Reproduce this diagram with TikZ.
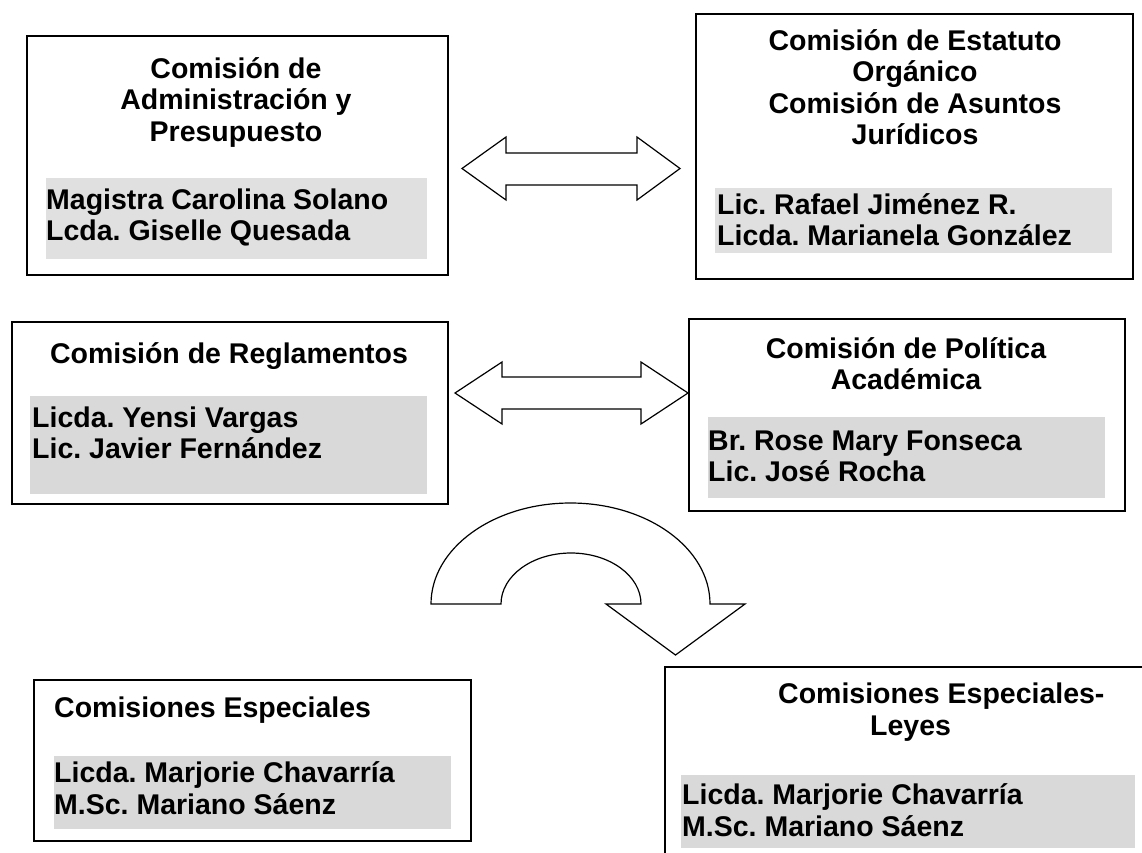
\documentclass[tikz,border=0pt]{standalone}
\usepackage{fontspec}
\setmainfont{Liberation Sans}
\definecolor{graybg}{HTML}{D9D9D9}
\definecolor{graybgl}{HTML}{E0E0E0}
\frenchspacing
\begin{document}
\begin{tikzpicture}[x=1pt,y=-1pt,
  box/.style={draw, line width=1.5pt, rectangle, inner sep=0pt, anchor=north west},
  shadebox/.style={fill=#1, draw=none, rectangle, inner sep=0pt, anchor=north west},
  txt/.style={font=\bfseries\fontsize{28.5}{31.5}\selectfont, inner sep=0pt},
  head/.style={txt, align=center, anchor=base},
  headl/.style={txt, align=left, anchor=base west},
  names/.style={txt, align=left, anchor=base west},
  blockarrow/.style={draw, line width=1.2pt, fill=white, line join=miter}]
\clip (0,0) rectangle (1142,852);
\fill[white] (0,0) rectangle (1142,852);

% boxes
\node[box, minimum width=421pt, minimum height=239pt] (b1) at (26,35) {};
\node[box, minimum width=437pt, minimum height=265pt] (b2) at (695,13) {};
\node[box, minimum width=436pt, minimum height=182pt] (b3) at (11,321) {};
\node[box, minimum width=436pt, minimum height=192pt] (b4) at (688,318) {};
\node[box, minimum width=437pt, minimum height=161pt] (b5) at (33,679) {};
\node[box, minimum width=500pt, minimum height=210pt] (b6) at (664,666) {};

% gray shading
\node[shadebox=graybgl, minimum width=381pt, minimum height=81pt] (g1) at (46,178) {};
\node[shadebox=graybgl, minimum width=397pt, minimum height=65pt] (g2) at (715,188) {};
\node[shadebox=graybg, minimum width=397pt, minimum height=98pt] (g3) at (30,396) {};
\node[shadebox=graybg, minimum width=397pt, minimum height=81pt] (g4) at (708,417) {};
\node[shadebox=graybg, minimum width=397pt, minimum height=73pt] (g5) at (54,756) {};
\node[shadebox=graybg, minimum width=454pt, minimum height=73pt] (g6) at (681,775) {};

% texts (multi-line nodes anchored at the baseline of their last line)
\node[head] (h1) at (236,141) {Comisión de\\Administración y\\Presupuesto};
\node[names] (n1) at (46,240.5) {Magistra Carolina Solano\\Lcda. Giselle Quesada};
\node[head] (h2) at (915,144.5) {Comisión de Estatuto\\Orgánico\\Comisión de Asuntos\\Jurídicos};
\node[names] (n2) at (717,245.5) {Lic. Rafael Jiménez R.\\Licda. Marianela González};
\node[head] (h3) at (229,363) {Comisión de Reglamentos};
\node[names] (n3) at (32,458.5) {Licda. Yensi Vargas\\Lic. Javier Fernández};
\node[head] (h4) at (906,389.5) {Comisión de Política\\Académica};
\node[names] (n4) at (708,481.5) {Br. Rose Mary Fonseca\\Lic. José Rocha};
\node[headl] (h5) at (54,717) {Comisiones Especiales};
\node[names] (n5) at (54,814) {Licda. Marjorie Chavarría\\M.Sc. Mariano Sáenz};
\node[headl] (h6a) at (778,703) {Comisiones Especiales-};
\node[headl] (h6b) at (870,735) {Leyes};
\node[names] (n6) at (682,836) {Licda. Marjorie Chavarría\\M.Sc. Mariano Sáenz};

% double arrows
\draw[blockarrow] (462,168.5) -- (506,137) -- (506,153) -- (637,153) -- (637,137)
  -- (680,168.5) -- (637,200) -- (637,185) -- (506,185) -- (506,200) -- cycle;
\draw[blockarrow] (455,393) -- (502,362) -- (502,377) -- (641,377) -- (641,362)
  -- (688,393) -- (641,424) -- (641,409) -- (502,409) -- (502,424) -- cycle;

% curved arrow
\draw[blockarrow] (431,604) arc[start angle=180, end angle=360, x radius=139.5, y radius=101]
  -- (745,604) -- (675.5,655) -- (606,604) -- (641,604)
  arc[start angle=360, end angle=180, x radius=70, y radius=51]
  -- cycle;
\end{tikzpicture}
\end{document}
